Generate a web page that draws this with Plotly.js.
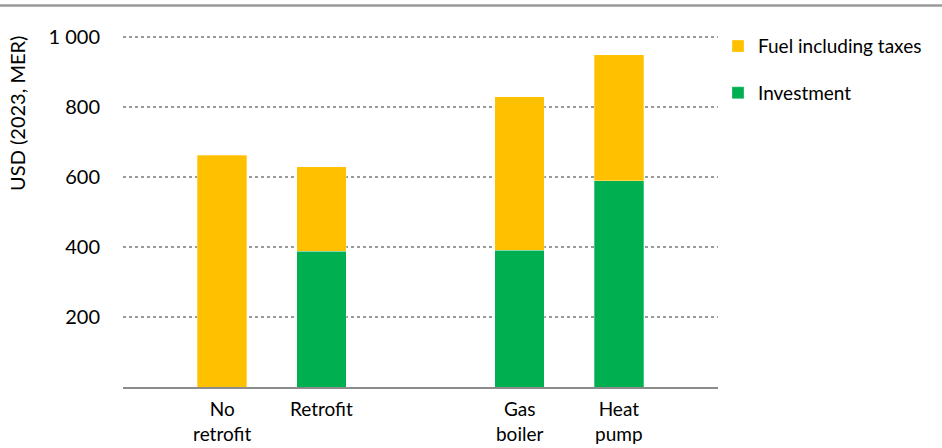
<!DOCTYPE html>
<html>
<head>
<meta charset="utf-8">
<script src="https://cdn.plot.ly/plotly-3.0.1.min.js"></script>
<style>html,body{margin:0;padding:0;background:#fff;}#chart{width:942px;height:448px;}</style>
</head>
<body>
<div id="chart"></div>
<script>
const categories = ["No<br>retrofit", "Retrofit", " ", "Gas<br>boiler", "Heat<br>pump"];
const barCategories = ["No<br>retrofit", "Retrofit", "Gas<br>boiler", "Heat<br>pump"];
const investment = [0, 388, 391, 590];
const fuelIncludingTaxes = [662, 242, 439, 360];
const yTickValues = [200, 400, 600, 800, 1000];
const yTitle = "USD (2023, MER)";

const FONT = "Lato, 'Open Sans', sans-serif";

const traces = [
  {
    type: "bar", name: "Investment", x: barCategories, y: investment,
    marker: {color: "#00B050", line: {color: "rgba(255,255,255,0.6)", width: 0.5}},
    legendgroup: "inv", legendrank: 2, hoverinfo: "x+y+name"
  },
  {
    type: "bar", name: "Fuel including taxes", x: barCategories, y: fuelIncludingTaxes,
    marker: {color: "#FFC000", line: {color: "rgba(255,255,255,0.6)", width: 0.5}},
    legendgroup: "fuel", legendrank: 1, hoverinfo: "x+y+name"
  }
];

const layout = {
  width: 942, height: 448,
  margin: {l: 123, r: 224, t: 36, b: 61},
  paper_bgcolor: "#fff", plot_bgcolor: "#fff",
  barmode: "stack", bargap: 0.5,
  separators: ", ",
  font: {family: FONT, size: 20, color: "#000"},
  showlegend: true,
  legend: {
    x: 1.0, xanchor: "left", y: 1.025, yanchor: "top",
    traceorder: "grouped", tracegroupgap: 19,
    font: {family: FONT, size: 19, color: "#000"},
    bgcolor: "rgba(0,0,0,0)", borderwidth: 0
  },
  xaxis: {
    type: "category", categoryorder: "array", categoryarray: categories,
    range: [-1, 5], showgrid: false, zeroline: false,
    showline: true, linecolor: "#8c8c8c", linewidth: 1.5,
    ticks: "outside", ticklen: 5, tickcolor: "rgba(0,0,0,0)",
    tickfont: {family: FONT, size: 19, color: "#000"}, fixedrange: true
  },
  xaxis2: {
    overlaying: "x", anchor: "y", side: "bottom", range: [0, 6],
    tickvals: [0, 3, 6], ticks: "outside", ticklen: 7, tickwidth: 1.5,
    tickcolor: "#8c8c8c", showticklabels: false, showgrid: false,
    zeroline: false, showline: false, fixedrange: true
  },
  yaxis: {
    range: [0, 1003], tickvals: yTickValues, tickformat: ",d",
    showgrid: true, gridcolor: "#9a9a9a", gridwidth: 1.5, griddash: "dot",
    zeroline: false, showline: false,
    ticks: "outside", ticklen: 18, tickcolor: "rgba(0,0,0,0)",
    tickfont: {family: FONT, size: 20, color: "#000"}, fixedrange: true
  },
  annotations: [{
    text: yTitle, textangle: -90, xref: "paper", yref: "paper",
    x: -0.177, y: 0.78, xanchor: "center", yanchor: "middle",
    showarrow: false, font: {family: FONT, size: 20, color: "#000"}
  }],
  shapes: [{
    type: "line", xref: "paper", yref: "paper",
    x0: -0.21, x1: 1.38, y0: 1.087, y1: 1.087,
    line: {color: "#9a9a9a", width: 2.5}
  }]
};

Plotly.newPlot("chart", traces, layout, {displayModeBar: false, staticPlot: true});
</script>
</body>
</html>
